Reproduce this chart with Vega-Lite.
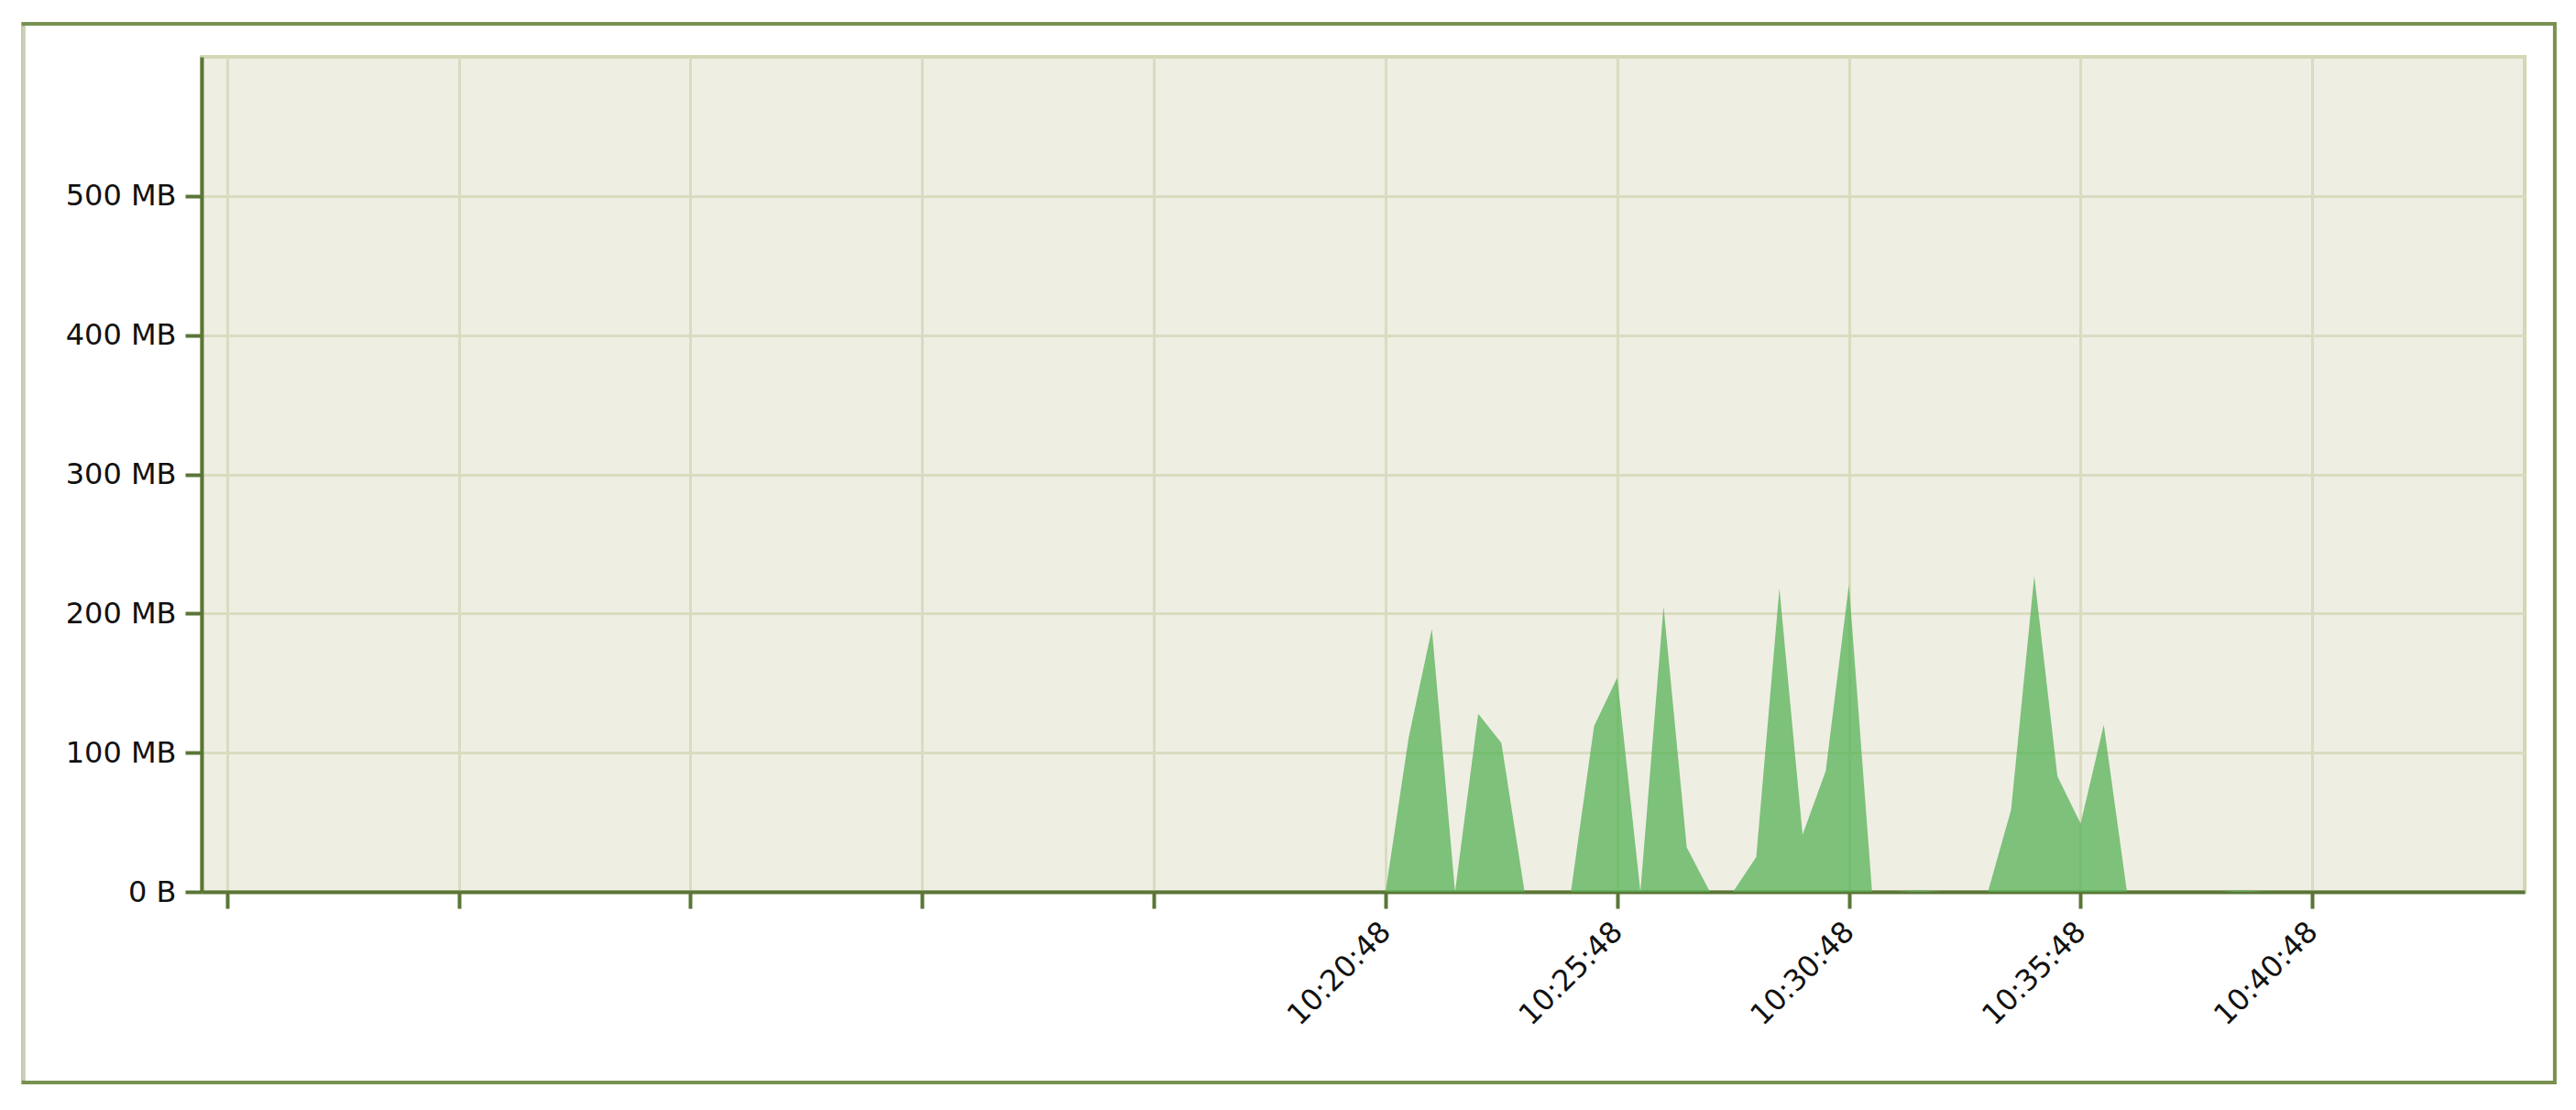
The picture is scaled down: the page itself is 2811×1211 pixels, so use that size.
{
  "$schema": "https://vega.github.io/schema/vega-lite/v6.json",
  "width": 2535,
  "height": 911,
  "autosize": {"type": "none"},
  "padding": {"left": 220, "top": 62, "right": 56, "bottom": 238},
  "background": "#ffffff",
  "config": {
    "view": {"fill": "#efeee3", "stroke": "#d3d7b4", "strokeWidth": 4},
    "axis": {
      "grid": true,
      "gridColor": "#d9dcbf",
      "gridWidth": 3,
      "domainColor": "#5a7636",
      "domainWidth": 4,
      "tickColor": "#5a7636",
      "tickWidth": 4,
      "tickSize": 18,
      "labelFont": "DejaVu Sans",
      "labelFontSize": 32,
      "labelColor": "#111111",
      "title": null,
      "labelOverlap": false,
      "labelFlush": false
    }
  },
  "data": {
    "values": [
      {"t": "2024-01-01T10:20:48Z", "v": 0},
      {"t": "2024-01-01T10:21:18Z", "v": 111},
      {"t": "2024-01-01T10:21:48Z", "v": 189},
      {"t": "2024-01-01T10:22:18Z", "v": 0},
      {"t": "2024-01-01T10:22:48Z", "v": 128},
      {"t": "2024-01-01T10:23:18Z", "v": 107},
      {"t": "2024-01-01T10:23:48Z", "v": 0},
      {"t": "2024-01-01T10:24:18Z", "v": 0},
      {"t": "2024-01-01T10:24:48Z", "v": 0},
      {"t": "2024-01-01T10:25:18Z", "v": 119},
      {"t": "2024-01-01T10:25:48Z", "v": 154},
      {"t": "2024-01-01T10:26:18Z", "v": 0},
      {"t": "2024-01-01T10:26:48Z", "v": 205},
      {"t": "2024-01-01T10:27:18Z", "v": 32},
      {"t": "2024-01-01T10:27:48Z", "v": 0},
      {"t": "2024-01-01T10:28:18Z", "v": 0},
      {"t": "2024-01-01T10:28:48Z", "v": 25},
      {"t": "2024-01-01T10:29:18Z", "v": 218},
      {"t": "2024-01-01T10:29:48Z", "v": 41},
      {"t": "2024-01-01T10:30:18Z", "v": 87},
      {"t": "2024-01-01T10:30:48Z", "v": 221},
      {"t": "2024-01-01T10:31:18Z", "v": 0},
      {"t": "2024-01-01T10:31:48Z", "v": 0},
      {"t": "2024-01-01T10:32:18Z", "v": 1},
      {"t": "2024-01-01T10:32:48Z", "v": 0},
      {"t": "2024-01-01T10:33:18Z", "v": 0},
      {"t": "2024-01-01T10:33:48Z", "v": 0},
      {"t": "2024-01-01T10:34:18Z", "v": 59},
      {"t": "2024-01-01T10:34:48Z", "v": 227},
      {"t": "2024-01-01T10:35:18Z", "v": 83},
      {"t": "2024-01-01T10:35:48Z", "v": 49},
      {"t": "2024-01-01T10:36:18Z", "v": 120},
      {"t": "2024-01-01T10:36:48Z", "v": 0},
      {"t": "2024-01-01T10:37:18Z", "v": 0},
      {"t": "2024-01-01T10:37:48Z", "v": 0},
      {"t": "2024-01-01T10:38:18Z", "v": 0},
      {"t": "2024-01-01T10:38:48Z", "v": 0},
      {"t": "2024-01-01T10:39:18Z", "v": 1},
      {"t": "2024-01-01T10:39:48Z", "v": 0},
      {"t": "2024-01-01T10:40:18Z", "v": 0},
      {"t": "2024-01-01T10:40:48Z", "v": 0}
    ]
  },
  "layer": [
    {
      "mark": {"type": "area", "color": "#5ab45a", "opacity": 0.77, "interpolate": "linear"},
      "encoding": {
        "x": {
          "field": "t",
          "type": "temporal",
          "scale": {
            "type": "utc",
            "nice": false,
            "domain": [
              {"year": 2024, "month": 1, "date": 1, "hours": 9, "minutes": 55, "seconds": 15, "utc": true},
              {"year": 2024, "month": 1, "date": 1, "hours": 10, "minutes": 45, "seconds": 23, "utc": true}
            ]
          },
          "axis": {
            "values": [
              {"year": 2024, "month": 1, "date": 1, "hours": 9, "minutes": 55, "seconds": 48, "utc": true},
              {"year": 2024, "month": 1, "date": 1, "hours": 10, "minutes": 0, "seconds": 48, "utc": true},
              {"year": 2024, "month": 1, "date": 1, "hours": 10, "minutes": 5, "seconds": 48, "utc": true},
              {"year": 2024, "month": 1, "date": 1, "hours": 10, "minutes": 10, "seconds": 48, "utc": true},
              {"year": 2024, "month": 1, "date": 1, "hours": 10, "minutes": 15, "seconds": 48, "utc": true},
              {"year": 2024, "month": 1, "date": 1, "hours": 10, "minutes": 20, "seconds": 48, "utc": true},
              {"year": 2024, "month": 1, "date": 1, "hours": 10, "minutes": 25, "seconds": 48, "utc": true},
              {"year": 2024, "month": 1, "date": 1, "hours": 10, "minutes": 30, "seconds": 48, "utc": true},
              {"year": 2024, "month": 1, "date": 1, "hours": 10, "minutes": 35, "seconds": 48, "utc": true},
              {"year": 2024, "month": 1, "date": 1, "hours": 10, "minutes": 40, "seconds": 48, "utc": true}
            ],
            "labelAngle": -45,
            "labelAlign": "right",
            "labelBaseline": "middle",
            "labelPadding": 20,
            "labelExpr": "utchours(datum.value) * 60 + utcminutes(datum.value) >= 620 ? utcFormat(datum.value, '%H:%M:%S') : ''"
          }
        },
        "y": {
          "field": "v",
          "type": "quantitative",
          "scale": {"domain": [0, 600], "nice": false, "zero": true},
          "axis": {
            "values": [0, 100, 200, 300, 400, 500],
            "labelPadding": 10,
            "labelExpr": "datum.value == 0 ? '0 B' : datum.value + ' MB'"
          }
        }
      }
    },
    {
      "data": {"values": [{}]},
      "mark": {"type": "rect", "filled": false, "fill": null, "stroke": "#789050", "strokeWidth": 4, "clip": false},
      "encoding": {
        "x": {"datum": {"year": 2024, "month": 1, "date": 1, "hours": 9, "minutes": 51, "seconds": 24, "utc": true}},
        "x2": {"datum": {"year": 2024, "month": 1, "date": 1, "hours": 10, "minutes": 46, "seconds": 2, "utc": true}},
        "y": {"datum": -137},
        "y2": {"datum": 623.7}
      }
    },
    {
      "data": {"values": [{}]},
      "mark": {"type": "rule", "color": "#c8d0b6", "strokeWidth": 4, "clip": false},
      "encoding": {
        "x": {"datum": {"year": 2024, "month": 1, "date": 1, "hours": 9, "minutes": 51, "seconds": 24, "utc": true}},
        "y": {"datum": -135.5},
        "y2": {"datum": 622.2}
      }
    }
  ]
}
